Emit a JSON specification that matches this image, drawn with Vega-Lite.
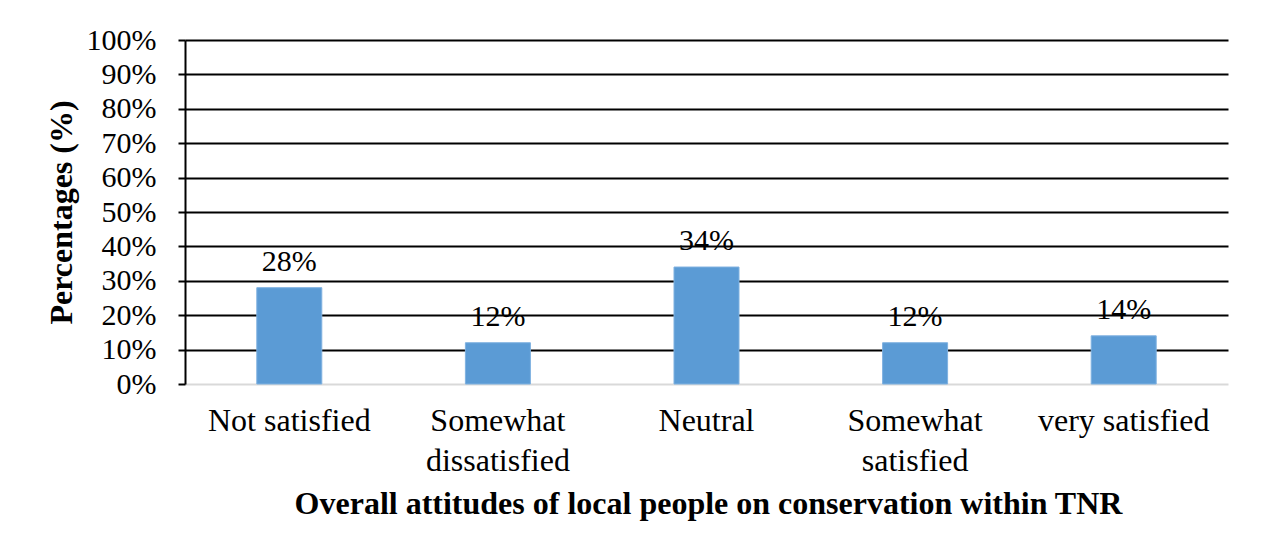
{
  "$schema": "https://vega.github.io/schema/vega-lite/v6.json",
  "width": 1043,
  "height": 344,
  "autosize": {"type": "none"},
  "padding": {"left": 185, "top": 40, "right": 37, "bottom": 174},
  "background": "white",
  "config": {
    "view": {"stroke": null},
    "font": "'Liberation Serif', 'Times New Roman', serif"
  },
  "data": {
    "values": [
      {"category": "Not satisfied", "value": 28},
      {"category": "Somewhat dissatisfied", "value": 12},
      {"category": "Neutral", "value": 34},
      {"category": "Somewhat satisfied", "value": 12},
      {"category": "very satisfied", "value": 14}
    ]
  },
  "transform": [{"calculate": "datum.value + '%'", "as": "label"}],
  "encoding": {
    "x": {
      "field": "category",
      "type": "nominal",
      "sort": null,
      "scale": {"paddingInner": 0, "paddingOuter": 0},
      "axis": {
        "title": "Overall attitudes of local people on conservation within TNR",
        "titleFont": "'Liberation Serif', 'Times New Roman', serif",
        "titleFontSize": 32,
        "titleFontWeight": "bold",
        "titleColor": "black",
        "titleX": 523,
        "titleY": 119,
        "titleBaseline": "middle",
        "titleAlign": "center",
        "labelAngle": 0,
        "labelFont": "'Liberation Serif', 'Times New Roman', serif",
        "labelFontSize": 32,
        "labelColor": "black",
        "labelPadding": 21,
        "labelBaseline": "top",
        "labelLineHeight": 40,
        "labelExpr": "indexof(datum.label, 'Somewhat') === 0 ? split(datum.label, ' ') : datum.label",
        "ticks": false,
        "domainColor": "#d9d9d9",
        "domainWidth": 2,
        "labelOverlap": false
      }
    },
    "y": {
      "field": "value",
      "type": "quantitative",
      "scale": {"domain": [0, 100]},
      "axis": {
        "title": "Percentages (%)",
        "titleFont": "'Liberation Serif', 'Times New Roman', serif",
        "titleFontSize": 32,
        "titleFontWeight": "bold",
        "titleColor": "black",
        "titleAngle": -90,
        "titleX": -124,
        "titleY": 172,
        "titleAlign": "center",
        "titleBaseline": "middle",
        "values": [0, 10, 20, 30, 40, 50, 60, 70, 80, 90, 100],
        "labelExpr": "datum.value + '%'",
        "labelFont": "'Liberation Serif', 'Times New Roman', serif",
        "labelFontSize": 30,
        "labelColor": "black",
        "labelPadding": 22,
        "tickSize": 7,
        "tickColor": "black",
        "tickWidth": 2,
        "domainColor": "black",
        "domainWidth": 2,
        "grid": true,
        "gridColor": "black",
        "gridWidth": 2,
        "gridOpacity": {"condition": {"test": "datum.value === 0", "value": 0}, "value": 1}
      }
    }
  },
  "layer": [
    {
      "mark": {"type": "bar", "size": 65, "color": "#5b9bd5", "stroke": "#7fb1e0", "strokeWidth": 1}
    },
    {
      "mark": {"type": "text", "fontSize": 30, "font": "'Liberation Serif', 'Times New Roman', serif", "color": "black", "baseline": "alphabetic", "dy": -17},
      "encoding": {
        "text": {"field": "label", "type": "nominal"}
      }
    }
  ]
}
